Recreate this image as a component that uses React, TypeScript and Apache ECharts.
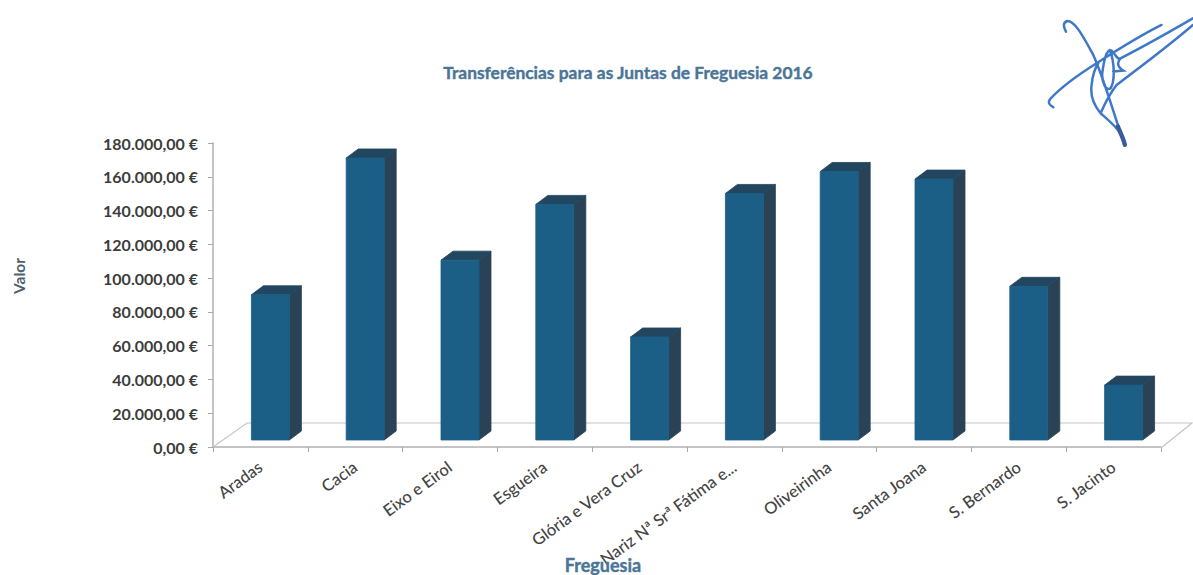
import React, { useEffect, useRef } from "react";
import * as echarts from "echarts";

const TITLE = "Transferências para as Juntas de Freguesia 2016";
const X_NAME = "Freguesia";
const Y_NAME = "Valor";
const categories = [
  "Aradas",
  "Cacia",
  "Eixo e Eirol",
  "Esgueira",
  "Glória e Vera Cruz",
  "Nariz Nª Srª Fátima e...",
  "Oliveirinha",
  "Santa Joana",
  "S. Bernardo",
  "S. Jacinto",
];
const values = [86000, 167000, 106500, 139500, 61000, 146000, 159000, 154500, 91000, 32500];

const FONT = "Lato, 'Open Sans', sans-serif";
const SIGNATURE =
  "M108 65 C100 50 98 38 112 33 C135 32 160 80 190 135 C215 190 240 270 262 340 C272 370 280 385 285 405 " +
  "M70 292 C60 285 52 280 60 268 C95 230 160 185 200 160 C270 115 335 75 395 45 " +
  "M489 25 C420 65 340 110 272 145 C262 150 258 135 245 122 C230 115 222 150 217 190 C215 220 230 245 242 235 C255 215 255 160 240 120 " +
  "M489 45 C420 105 340 165 260 225 C240 250 225 280 212 310 C195 290 180 260 185 225 C188 195 195 175 205 160 " +
  "M272 145 C262 155 260 170 280 182 L250 185 " +
  "M212 310 C235 330 260 350 270 370";
const SIGNATURE_TAIL = "M264 350 C272 370 280 385 285 405";

echarts.graphic.registerShape("signature", echarts.graphic.extendPath(SIGNATURE, {}));
echarts.graphic.registerShape("signatureTail", echarts.graphic.extendPath(SIGNATURE_TAIL, {}));

const face = (fill: string) => ({ fill, stroke: fill, lineWidth: 0.8 });

const renderBar = (params: any, api: any) => {
  const i = api.value(0);
  const c0 = api.coord([i, 0]);
  const c1 = api.coord([i, api.value(1)]);
  const w = 38;
  const dx = 12;
  const dy = 9;
  const x0 = c0[0] - 9;
  const x1 = x0 + w;
  const base = c0[1] - 7;
  const top = c1[1] - 7;
  return {
    type: "group",
    children: [
      {
        type: "polygon",
        shape: { points: [[x1, base], [x1 + dx, base - dy], [x1 + dx, top - dy], [x1, top]] },
        style: face("#2a4256"),
      },
      {
        type: "polygon",
        shape: { points: [[x0, top], [x0 + dx, top - dy], [x1 + dx, top - dy], [x1, top]] },
        style: face("#224660"),
      },
      {
        type: "rect",
        shape: { x: x0, y: top, width: w, height: base - top },
        style: face("#1b5e86"),
      },
    ],
  };
};

const renderFloor = (params: any, api: any) => {
  const left = api.coord([0, 0]);
  const right = api.coord([categories.length - 1, 0]);
  const half = api.size([1, 0])[0] / 2;
  const xl = left[0] - half;
  const xr = right[0] + half;
  const y = left[1];
  return {
    type: "polyline",
    shape: { points: [[xl, y], [xl + 34, y - 24], [xr + 31, y - 24], [xr, y + 1]] },
    style: { fill: "none", stroke: "#c4c6c6", lineWidth: 1.2 },
  };
};

export default function App() {
  const ref = useRef<HTMLDivElement>(null);
  useEffect(() => {
    document.body.style.margin = "0";
    const chart = echarts.init(ref.current!, undefined, { renderer: "svg" });
    chart.setOption({
      animation: false,
      backgroundColor: "#ffffff",
      title: {
        text: TITLE,
        left: 623,
        top: 59,
        textAlign: "center",
        textStyle: {
          fontFamily: FONT,
          fontSize: 17.4,
          fontWeight: "bold",
          color: "#4a7596",
          textBorderColor: "#4a7596",
          textBorderWidth: 0.4,
        },
      },
      grid: { left: 213, right: 32, top: 143, bottom: 128, containLabel: false },
      xAxis: {
        type: "category",
        data: categories,
        axisLine: { lineStyle: { color: "#b0b0b0", width: 1.5 } },
        axisTick: { show: true, length: 5, lineStyle: { color: "#a8a8a8" } },
        axisLabel: {
          interval: 0,
          rotate: 36,
          margin: 18,
          fontFamily: FONT,
          fontSize: 16.5,
          fontWeight: 500,
          color: "#444444",
        },
      },
      yAxis: {
        type: "value",
        min: 0,
        max: 180000,
        interval: 20000,
        splitLine: { show: false },
        axisLine: { show: true, lineStyle: { color: "#b0b0b0", width: 1.5 } },
        axisTick: { show: true, length: 5, lineStyle: { color: "#a8a8a8" } },
        axisLabel: {
          margin: 15,
          fontFamily: FONT,
          fontSize: 16,
          fontWeight: "bold",
          color: "#3c3c3c",
          formatter: (v: number) =>
            v === 0 ? "0,00 €" : `${(v / 1000).toFixed(0)}.000,00 €`,
        },
      },
      series: [
        { type: "custom", data: [[0]], renderItem: renderFloor, silent: true, z: 1 },
        {
          type: "custom",
          data: values.map((v, i) => [i, v]),
          encode: { x: 0, y: 1 },
          renderItem: renderBar,
          z: 2,
        },
      ],
      graphic: [
        {
          type: "text",
          x: 603,
          y: 565,
          style: {
            text: X_NAME,
            fontFamily: FONT,
            fontSize: 18,
            fontWeight: "bold",
            fill: "#4a7596",
            stroke: "#4a7596",
            lineWidth: 0.4,
            textAlign: "center",
            textVerticalAlign: "middle",
          },
          z: 10,
        },
        {
          type: "text",
          x: 19,
          y: 276,
          rotation: Math.PI / 2,
          style: {
            text: Y_NAME,
            fontFamily: FONT,
            fontSize: 15.5,
            fontWeight: "bold",
            fill: "#4f5f6c",
            textAlign: "center",
            textVerticalAlign: "middle",
          },
        },
        {
          type: "signature",
          x: 1030,
          y: 10,
          scaleX: 1 / 3,
          scaleY: 1 / 3,
          style: { fill: "none", stroke: "#3f78c8", lineWidth: 7.5, lineCap: "round" },
        },
        {
          type: "signatureTail",
          x: 1030,
          y: 10,
          scaleX: 1 / 3,
          scaleY: 1 / 3,
          style: { fill: "none", stroke: "#3a5aa0", lineWidth: 13, lineCap: "round" },
        },
      ],
    });
    return () => chart.dispose();
  }, []);
  return <div ref={ref} style={{ width: 1193, height: 575 }} />;
}
